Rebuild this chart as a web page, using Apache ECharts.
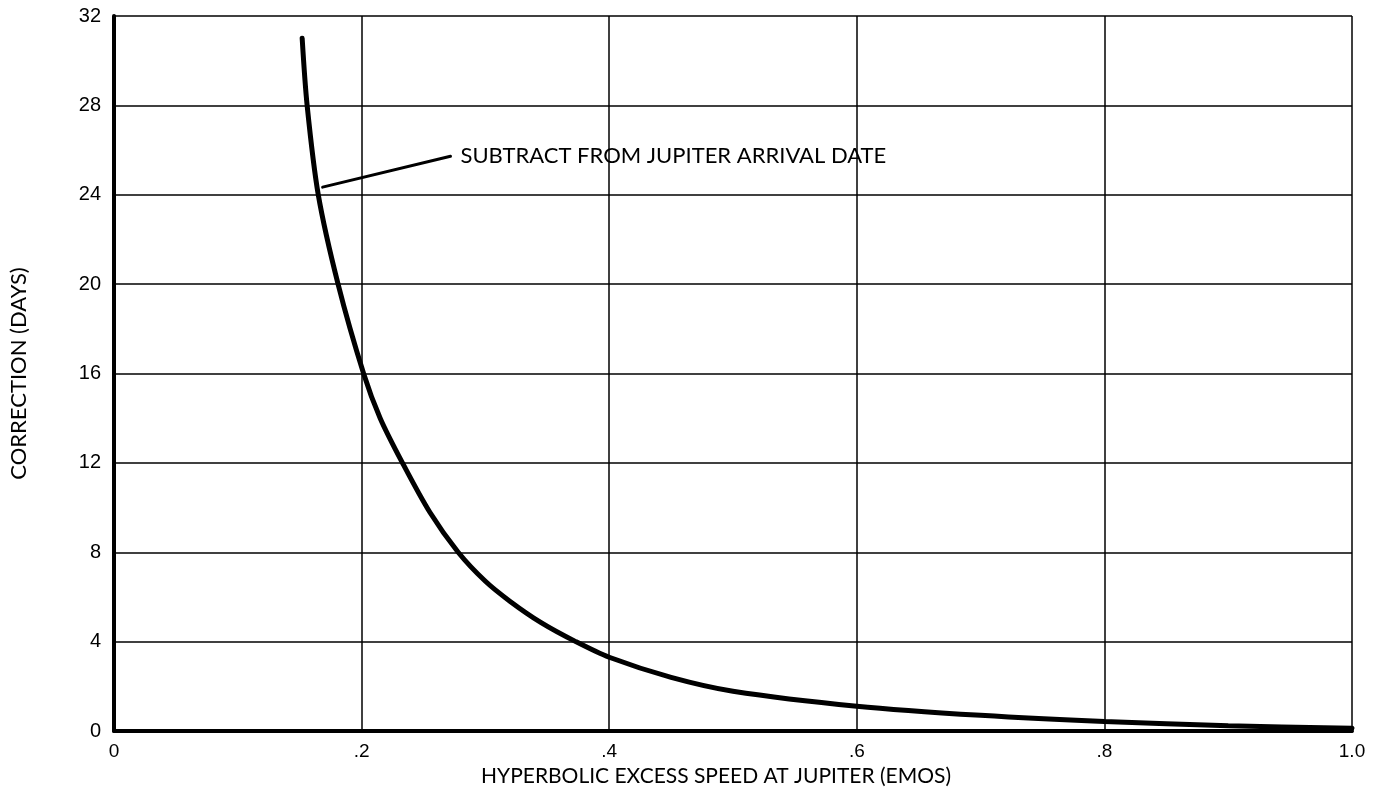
<!DOCTYPE html>
<html>
<head>
<meta charset="utf-8">
<script src="https://cdn.jsdelivr.net/npm/echarts@6/dist/echarts.min.js"></script>
<style>
  html, body { margin: 0; padding: 0; background: #fff; }
  #chart { width: 1380px; height: 792px; }
</style>
</head>
<body>
<div id="chart"></div>
<script>
// Hyperbolic excess speed (EMOS) vs. correction (days)
const speed = [0.152, 0.156, 0.165, 0.181, 0.2016, 0.215, 0.233, 0.255, 0.278, 0.300, 0.320, 0.345, 0.373, 0.400, 0.450, 0.500, 0.600, 0.700, 0.800, 0.900, 1.000];
const correction = [31.0, 28.0, 24.0, 20.0, 16.0, 14.0, 12.0, 9.8, 8.0, 6.7, 5.8, 4.85, 4.0, 3.3, 2.4, 1.78, 1.11, 0.70, 0.42, 0.24, 0.12];

// Leader line for the note, from the curve out to the text
const leaderX = [0.1685, 0.2718];
const leaderY = [24.34, 25.72];
const noteText = 'SUBTRACT FROM JUPITER ARRIVAL DATE';

const xTickLabels = { 0: '0', 0.2: '.2', 0.4: '.4', 0.6: '.6', 0.8: '.8', 1: '1.0' };

const curveData = speed.map((v, i) => [v, correction[i]]);
const leaderData = leaderX.map((v, i) => [v, leaderY[i]]);

const tickFont = '"Liberation Sans", Arial, sans-serif';
const titleFont = 'Lato, "Open Sans", sans-serif';

const chart = echarts.init(document.getElementById('chart'));
chart.setOption({
  animation: false,
  backgroundColor: '#fff',
  grid: { left: 113, right: 28, top: 16, bottom: 57 },
  xAxis: [{
    type: 'value', min: 0, max: 1, interval: 0.2,
    name: 'HYPERBOLIC EXCESS SPEED AT JUPITER (EMOS)',
    nameLocation: 'middle', nameGap: 35,
    nameTextStyle: { fontFamily: titleFont, fontSize: 21, color: '#000', padding: [0, 34, 0, 0] },
    axisLine: { show: true, lineStyle: { color: '#000', width: 4 } },
    axisTick: { show: false },
    axisLabel: {
      color: '#000', fontFamily: tickFont, fontSize: 19, margin: 11,
      formatter: v => xTickLabels[Math.round(v * 10) / 10] ?? ''
    },
    splitLine: { show: true, lineStyle: { color: '#000', width: 1.5 } }
  }, {
    type: 'value', min: 0, max: 1, position: 'top',
    axisLine: { show: true, lineStyle: { color: '#000', width: 2.5 } },
    axisTick: { show: false }, axisLabel: { show: false }, splitLine: { show: false }
  }],
  yAxis: [{
    type: 'value', min: 0, max: 32, interval: 4,
    name: 'CORRECTION (DAYS)',
    nameLocation: 'middle', nameGap: 84,
    nameTextStyle: { fontFamily: titleFont, fontSize: 22, color: '#000' },
    axisLine: { show: true, lineStyle: { color: '#000', width: 2.5 } },
    axisTick: { show: false },
    axisLabel: { color: '#000', fontFamily: tickFont, fontSize: 20, margin: 13 },
    splitLine: { show: true, lineStyle: { color: '#000', width: 1.5 } }
  }, {
    type: 'value', min: 0, max: 32, position: 'right',
    axisLine: { show: true, lineStyle: { color: '#000', width: 4 } },
    axisTick: { show: false }, axisLabel: { show: false }, splitLine: { show: false }
  }],
  series: [{
    name: 'correction',
    type: 'line',
    data: curveData,
    smooth: 0.3,
    symbol: 'none',
    lineStyle: { color: '#000', width: 5, cap: 'round' },
    z: 5
  }, {
    name: 'note',
    type: 'line',
    data: leaderData,
    symbol: 'none',
    lineStyle: { color: '#000', width: 3, cap: 'round' },
    endLabel: {
      show: true,
      distance: 10,
      fontFamily: titleFont, fontSize: 22, color: '#000',
      formatter: () => noteText
    },
    z: 4
  }]
});
</script>
</body>
</html>
